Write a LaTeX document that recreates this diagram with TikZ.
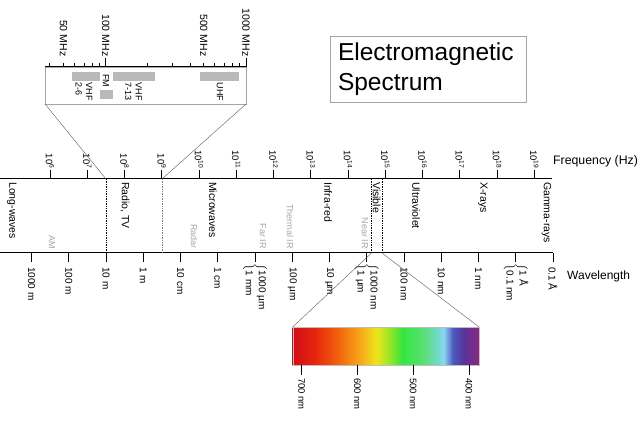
\documentclass[tikz,border=0pt]{standalone}
\usepackage{fontspec}
\setmainfont{Liberation Sans}
\usetikzlibrary{positioning,calc}

% visible spectrum, 25bp..75bp is stretched over the bar
\pgfdeclarehorizontalshading{visspec}{100bp}{rgb(0bp)=(0.82,0.05,0.1); rgb(25bp)=(0.82,0.05,0.1);
	rgb(31bp)=(0.9,0.15,0.05); rgb(37.5bp)=(0.95,0.4,0.05); rgb(43bp)=(0.97,0.65,0.1);
	rgb(47.5bp)=(0.93,0.9,0.1); rgb(51bp)=(0.6,0.9,0.15); rgb(54.5bp)=(0.2,0.9,0.25);
	rgb(60bp)=(0.35,0.88,0.45); rgb(64bp)=(0.45,0.85,0.8); rgb(65.5bp)=(0.55,0.85,0.95);
	rgb(68bp)=(0.3,0.35,0.75); rgb(71bp)=(0.35,0.2,0.6); rgb(75bp)=(0.55,0.15,0.5);
	rgb(100bp)=(0.55,0.15,0.5)}

\tikzset{
	axisline/.style={line width=1pt},
	tickmark/.style={line width=0.9pt},
	freqlabel/.style={font=\fontsize{9.5}{11}\selectfont, rotate=-90, anchor=east, inner sep=1pt},
	wavelabel/.style={font=\fontsize{10}{13}\selectfont, rotate=-90, anchor=west, inner sep=0pt},
	band/.style={font=\fontsize{10.5}{12}\selectfont, rotate=-90, anchor=west, inner sep=0pt},
	subband/.style={font=\fontsize{9}{11}\selectfont, text=gray!70, rotate=-90, anchor=east, inner sep=0pt},
	zoomline/.style={gray!70!black, line width=0.4pt},
	divider/.style={densely dotted, line width=0.7pt},
	mhzlabel/.style={font=\fontsize{10.5}{12}\selectfont, rotate=-90, anchor=east, inner sep=0pt},
	tvbar/.style={fill=gray!55, draw=none},
	tvlabel/.style={font=\fontsize{9}{10.5}\selectfont, rotate=-90, anchor=west, inner sep=0pt, align=left},
	nmlabel/.style={font=\fontsize{9.5}{11}\selectfont, rotate=-90, anchor=west, inner sep=0pt},
}

\begin{document}
\begin{tikzpicture}[x=1pt, y=-1pt]
	\useasboundingbox (0,0) rectangle (640,422);

	\def\fy{179} % frequency axis
	\def\wy{253} % wavelength axis
	\def\fzero{50} \def\dec{37.25} % x of 10^6 Hz, one decade
	\def\wzero{31.5} % x of 1000 m

	% Frequency axis
	\draw[axisline] (0,\fy) -- (552,\fy);
	\foreach \n in {6,...,19}{
		\pgfmathsetmacro{\xt}{\fzero + (\n-6)*\dec}
		\draw[tickmark] (\xt,\fy) -- (\xt,\fy-9)
			node[freqlabel] (f\n) {10\textsuperscript{\n}};
	}
	\node[font=\fontsize{12.3}{14}\selectfont, anchor=west, inner sep=0pt] (freq) at (553,161) {Frequency (Hz)};

	% Wavelength axis
	\draw[axisline] (0,\wy) -- (553,\wy);
	\foreach \k/\lab in {0/1000 m, 1/100 m, 2/10 m, 3/1 m, 4/10 cm, 5/1 cm, 7/100 µm, 8/10 µm,
		10/100 nm, 11/10 nm, 12/1 nm, 14/0.1 Å}{
		\pgfmathsetmacro{\xt}{\wzero + \k*\dec}
		\draw[tickmark] (\xt,\wy) -- (\xt,\wy+9);
		\node[wavelabel] (w\k) at (\xt,\wy+14) {\lab};
	}
	% the ones with two names
	\foreach \k/\la/\lb in {6/1000 µm/1 mm, 9/1000 nm/1 µm, 13/1 Å/0.1 nm}{
		\pgfmathsetmacro{\xt}{\wzero + \k*\dec}
		\draw[tickmark] (\xt,\wy) -- (\xt,\wy+9);
		\node[wavelabel] (w\k) at (\xt,\wy+10)
			{$\bigg\{$\begin{tabular}{@{}l@{}}\la\\\lb\end{tabular}};
	}
	\node[font=\fontsize{12}{14}\selectfont, anchor=west, inner sep=0pt] (wave) at (567,276) {Wavelength};

	% Band names
	\foreach \x/\name [count=\i] in {12/Long-waves, 125/{Radio, TV}, 213/Microwaves, 328/Infra-red,
		376.5/Visible, 416/Ultraviolet, 483/X-rays, 546.5/Gamma-rays}
		\node[band] (b\i) at (\x,182) {\name};
	\foreach \x/\name [count=\i] in {52/AM, 194/Radar, 263/Far IR, 290/Thermal IR, 365/Near IR}
		\node[subband] (s\i) at (\x,249) {\name};

	% Dividers
	\coordinate (r1top) at (106,\fy);   \coordinate (r1bot) at (106,\wy);
	\coordinate (r2top) at (162,\fy);   \coordinate (r2bot) at (162,\wy);
	\coordinate (v1top) at (371.5,\fy); \coordinate (v1bot) at (371.5,\wy);
	\coordinate (v2top) at (382,\fy);   \coordinate (v2bot) at (382,\wy);
	\draw[divider] (r1top) -- (r1bot);
	\draw[divider, gray] (r2top) -- (r2bot);
	\draw[divider] (v1top) -- (v1bot);
	\draw[divider] (v2top) -- (v2bot);

	% Radio / TV inset
	\node[draw=gray!70, line width=0.8pt, minimum width=201pt, minimum height=37pt,
		inner sep=0pt, outer sep=0pt] (inset) at (145.5,85.5) {};
	\draw[axisline] (inset.north west) -- (inset.north east);
	\def\mzero{105.7} \def\mdec{140.3}
	\foreach \f in {40,50,60,70,80,90,200,300,400,500,600,700,800,900}{
		\pgfmathsetmacro{\xt}{\mzero + \mdec*log10(\f/100)}
		\draw[tickmark] (\xt,67) -- (\xt,63.5);
	}
	\draw[tickmark] (\mzero,67) -- (\mzero,58);
	\draw[tickmark] (\mzero+\mdec,67) -- (\mzero+\mdec,58);
	\foreach \f in {50,100,500,1000}{
		\pgfmathsetmacro{\xt}{\mzero + \mdec*log10(\f/100)}
		\node[mhzlabel] (m\f) at (\xt,56.5) {\f\ MHz};
	}
	\fill[tvbar] (72,72) rectangle (99.5,81);
	\fill[tvbar] (99.5,90.5) rectangle (113,99);
	\fill[tvbar] (113,72) rectangle (155,81);
	\fill[tvbar] (200,72) rectangle (239,81);
	\node[tvlabel] (vhfa) at (84,82.5) {VHF\\2-6};
	\node[tvlabel] (fm) at (106,74) {FM};
	\node[tvlabel] (vhfb) at (133.5,82.5) {VHF\\7-13};
	\node[tvlabel] (uhf) at (220,82.5) {UHF};
	\draw[zoomline] (inset.south west) -- (r1top);
	\draw[zoomline] (inset.south east) -- (r2top);

	% Title
	\node[draw=gray!70, line width=0.8pt, text width=180pt, inner xsep=8pt, minimum height=66pt,
		align=left, font=\fontsize{24.5}{30}\selectfont] (title) at (428,69) {Electromagnetic\\Spectrum};

	% Visible spectrum
	\node[shade, shading=visspec, draw=gray!50, line width=0.3pt, minimum width=186.3pt,
		minimum height=38pt, inner sep=0pt, outer sep=0pt] (spec) at (385.85,346) {};
	\draw[zoomline] (v1bot) -- (spec.north west);
	\draw[zoomline] (v2bot) -- (spec.north east);
	\foreach \l in {700,600,500,400}{
		\pgfmathsetmacro{\xt}{301.7 + (700-\l)*0.5577}
		\draw[tickmark] (\xt,365) -- (\xt,375);
		\node[nmlabel] (nm\l) at (\xt,378) {\l\ nm};
	}

\end{tikzpicture}
\end{document}
